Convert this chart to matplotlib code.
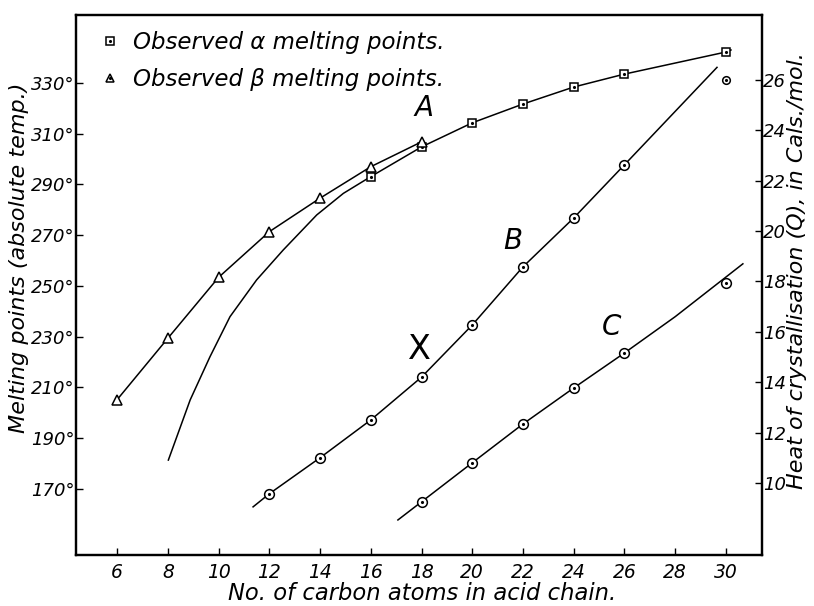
import matplotlib
matplotlib.use("Agg")
from matplotlib import pyplot as plt
from matplotlib.lines import Line2D
from matplotlib.legend_handler import HandlerTuple

# --- data ---
# curve A: alpha melting points (left axis, absolute temp.)
alpha_n = [16, 18, 20, 22, 24, 26, 30]
alpha_t = [293.1, 304.8, 314.3, 321.7, 328.4, 333.5, 342.2]
# drawn (unmarked) lower branch of curve A
alpha_curve_n = [8.02, 8.88, 9.66, 10.45, 11.5, 12.55, 13.87, 14.92, 16, 18, 20, 22, 24, 26, 30, 30.2]
alpha_curve_t = [181.4, 205.1, 222.1, 237.9, 252.4, 264.2, 278.0, 286.5, 293.1, 304.8, 314.3,
                 321.7, 328.4, 333.5, 342.2, 343.0]

# beta melting points
beta_n = [6, 8, 10, 12, 14, 16, 18]
beta_t = [205.2, 229.4, 253.4, 271.4, 284.6, 297.0, 306.8]

# curve B: heat of crystallisation (right axis, Cals./mol.)
b_n = [12, 14, 16, 18, 20, 22, 24, 26]
b_q = [9.57, 11.0, 12.5, 14.2, 16.27, 18.58, 20.52, 22.63]
b_line_n = [11.36, 12, 14, 16, 18, 20, 22, 24, 26, 29.65]
b_line_q = [9.05, 9.57, 11.0, 12.5, 14.2, 16.27, 18.58, 20.52, 22.63, 26.5]
b_extra_n = [30]
b_extra_q = [26.0]

# curve C
c_n = [18, 20, 22, 24, 26, 30]
c_q = [9.25, 10.8, 12.34, 13.77, 15.16, 17.94]
c_line_n = [17.07, 18, 20, 22, 24, 26, 28, 30.67]
c_line_q = [8.53, 9.25, 10.8, 12.34, 13.77, 15.16, 16.6, 18.7]

x_ticks = list(range(6, 31, 2))
t_ticks = list(range(170, 331, 20))
q_ticks = list(range(10, 27, 2))

plt.rcParams['font.family'] = ['DejaVu Sans']
plt.rcParams['font.style'] = 'italic'

fig = plt.figure(figsize=(8.14, 6.06), dpi=100)
ax = fig.add_axes([0.0934, 0.0842, 0.8426, 0.8911])
ax2 = ax.twinx()

lw = 1.1
mkw = dict(markerfacecolor='white', markeredgecolor='black', markeredgewidth=1.1, linestyle='none')
dot = dict(marker='.', color='black', markersize=2.5, linestyle='none')

# curve A and beta curve
ax.plot(alpha_curve_n, alpha_curve_t, color='black', lw=lw)
ax.plot(beta_n, beta_t, color='black', lw=lw)
ax.plot(alpha_n, alpha_t, marker='s', markersize=6, **mkw)
ax.plot(alpha_n, alpha_t, **dot)
ax.plot(beta_n, beta_t, marker='^', markersize=7, **mkw)

# curves B and C
ax2.plot(b_line_n, b_line_q, color='black', lw=lw)
ax2.plot(c_line_n, c_line_q, color='black', lw=lw)
ax2.plot(b_n, b_q, marker='o', markersize=7, **mkw)
ax2.plot(b_n, b_q, **dot)
ax2.plot(b_extra_n, b_extra_q, marker='o', markersize=5.5, **mkw)
ax2.plot(b_extra_n, b_extra_q, **dot)
ax2.plot(c_n, c_q, marker='o', markersize=7, **mkw)
ax2.plot(c_n, c_q, **dot)

ax.set_xlim(4.38, 31.42)
ax.set_ylim(144.0, 356.8)
ax2.set_ylim(7.14, 28.58)

ax.set_xticks(x_ticks)
ax.set_xticklabels([str(v) for v in x_ticks], fontsize=13.5)
ax.set_yticks(t_ticks)
ax.set_yticklabels([f"{v}°" for v in t_ticks], fontsize=13)
ax2.set_yticks(q_ticks)
ax2.set_yticklabels([str(v) for v in q_ticks], fontsize=13)

ax.tick_params(axis='x', direction='in', length=5, width=1, pad=6)
ax.tick_params(axis='y', direction='in', length=5, width=1, pad=1)
ax2.tick_params(axis='y', direction='in', length=5, width=1, pad=1)
for a in (ax, ax2):
    for s in a.spines.values():
        s.set_linewidth(1.6)

ax.set_xlabel('No. of carbon atoms in acid chain.', fontsize=16.3)
ax.xaxis.set_label_coords(0.505, -0.05)
ax.set_ylabel('Melting points (absolute temp.)', fontsize=16)
ax.yaxis.set_label_coords(-0.068, 0.55)
ax2.set_ylabel('Heat of crystallisation (Q), in Cals./mol.', fontsize=16)
ax2.yaxis.set_label_coords(1.037, 0.526)

# curve labels
ax.text(18.1, 320, 'A', fontsize=20, ha='center', va='center')
ax2.text(21.6, 19.6, 'B', fontsize=20, ha='center', va='center')
ax2.text(25.5, 16.2, 'C', fontsize=20, ha='center', va='center')
ax2.text(17.9, 15.3, 'X', fontsize=24, style='normal', ha='center', va='center')

# legend
sq = Line2D([], [], marker='s', markersize=6, **mkw)
tri = Line2D([], [], marker='^', markersize=6, **mkw)
d = Line2D([], [], **dot)
ax2.legend([(sq, d), (tri, d)],
           ['Observed α melting points.', 'Observed β melting points.'],
           handler_map={tuple: HandlerTuple(ndivide=1)},
           loc='upper left', bbox_to_anchor=(0.036, 0.970), frameon=False,
           borderpad=0, borderaxespad=0,
           fontsize=16.5, handlelength=0.8, handletextpad=0.6, labelspacing=0.6)

plt.savefig('out.png', dpi=100)
